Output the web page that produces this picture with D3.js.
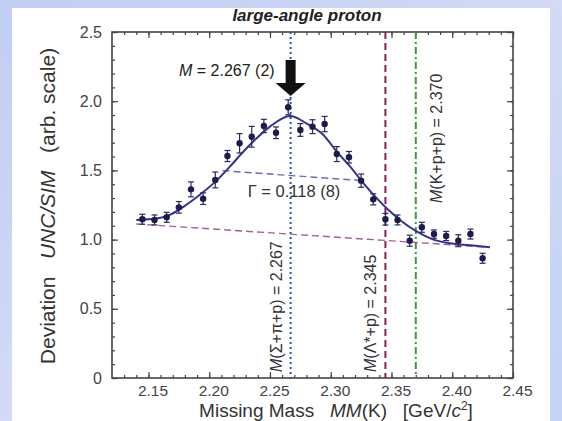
<!DOCTYPE html>
<html>
<head>
<meta charset="utf-8">
<script src="https://cdn.jsdelivr.net/npm/d3@7"></script>
<style>
  body { margin: 0; }
  svg { display: block; font-family: "Liberation Sans", Arial, sans-serif; }
  text { white-space: pre; }
</style>
</head>
<body>
<div class="chart"></div>
<script>
// measured points (missing mass bins, GeV/c^2)
const massBins = [2.145, 2.155, 2.165, 2.175, 2.185, 2.195, 2.205, 2.215, 2.225, 2.235,
  2.245, 2.255, 2.265, 2.275, 2.285, 2.295, 2.305, 2.315, 2.325, 2.335,
  2.345, 2.355, 2.365, 2.375, 2.385, 2.395, 2.405, 2.415, 2.425];
const deviation = [1.147, 1.142, 1.161, 1.233, 1.363, 1.296, 1.431, 1.604, 1.696, 1.743,
  1.821, 1.772, 1.956, 1.792, 1.816, 1.835, 1.618, 1.595, 1.426, 1.291,
  1.147, 1.142, 0.992, 1.089, 1.040, 1.026, 0.992, 1.040, 0.865];
const errors = [0.036, 0.036, 0.036, 0.042, 0.054, 0.042, 0.057, 0.040, 0.070, 0.075,
  0.048, 0.042, 0.054, 0.046, 0.050, 0.055, 0.054, 0.042, 0.048, 0.040,
  0.042, 0.036, 0.040, 0.036, 0.030, 0.033, 0.043, 0.036, 0.036];

// fit curve
const fitMass = [2.140, 2.157, 2.168, 2.179, 2.192, 2.206, 2.217, 2.228, 2.239, 2.250,
  2.2665, 2.280, 2.294, 2.305, 2.316, 2.327, 2.338, 2.346, 2.357, 2.371, 2.384, 2.398, 2.415, 2.431];
const fitValue = [1.142, 1.152, 1.180, 1.238, 1.322, 1.426, 1.527, 1.635, 1.732, 1.816,
  1.893, 1.840, 1.756, 1.635, 1.527, 1.407, 1.298, 1.226, 1.142, 1.057, 1.002, 0.973, 0.959, 0.944];

const bgMass = [2.140, 2.431];
const bgValue = [1.113, 0.944];
const halfMass = [2.211, 2.326];
const halfValue = [1.498, 1.426];

const thresholdNames = ["M(Σ+π+p) = 2.267", "M(Λ*+p) = 2.345", "M(K+p+p) = 2.370"];
const thresholdMass = [2.267, 2.345, 2.370];

const xTicks = [2.15, 2.20, 2.25, 2.30, 2.35, 2.40, 2.45];
const yTicks = [0, 0.5, 1.0, 1.5, 2.0, 2.5];
const yTickLabels = ["0", "0.5", "1.0", "1.5", "2.0", "2.5"];

const W = 562, H = 421;
const margin = {top: 32, right: 49, bottom: 43, left: 112};
const width = W - margin.left - margin.right,
      height = H - margin.top - margin.bottom;

const root = d3.select(".chart").append("svg")
  .attr("width", W)
  .attr("height", H);

// slide background
const defs = root.append("defs");
const grad = defs.append("linearGradient").attr("id", "bg")
  .attr("x1", 0).attr("y1", 0).attr("x2", 1).attr("y2", 1);
grad.append("stop").attr("offset", "0%").attr("stop-color", "#c0cef2");
grad.append("stop").attr("offset", "50%").attr("stop-color", "#d2daf6");
grad.append("stop").attr("offset", "100%").attr("stop-color", "#c4d2f4");
root.append("rect").attr("width", W).attr("height", H).attr("fill", "url(#bg)");
root.append("rect").attr("x", 12).attr("y", 8).attr("width", 538).attr("height", H - 8)
  .attr("fill", "#fff");

const svg = root.append("g")
  .attr("transform", "translate(" + margin.left + "," + margin.top + ")");

const xScale = d3.scaleLinear().domain([2.12, 2.45]).range([0, width]);
const yScale = d3.scaleLinear().domain([0, 2.5]).range([height, 0]);

// ticks on all four sides, pointing inward
const frameColor = "#444";
const xMinor = d3.range(2.13, 2.4501, 0.01);
const yMinor = d3.range(0, 2.5001, 0.1);

svg.append("g").attr("transform", "translate(0," + height + ")")
  .call(d3.axisBottom(xScale).tickValues(xMinor).tickSize(-3).tickFormat(""));
svg.append("g")
  .call(d3.axisTop(xScale).tickValues(xMinor).tickSize(-3).tickFormat(""));
svg.append("g").attr("class", "xAxis").attr("transform", "translate(0," + height + ")")
  .call(d3.axisBottom(xScale).tickValues(xTicks).tickSize(-6).tickPadding(7)
    .tickFormat(d3.format(".2f")));
svg.append("g")
  .call(d3.axisTop(xScale).tickValues(xTicks).tickSize(-6).tickFormat(""));

svg.append("g")
  .call(d3.axisLeft(yScale).tickValues(yMinor).tickSize(-3).tickFormat(""));
svg.append("g").attr("transform", "translate(" + width + ",0)")
  .call(d3.axisRight(yScale).tickValues(yMinor).tickSize(-3).tickFormat(""));
svg.append("g").attr("class", "yAxis")
  .call(d3.axisLeft(yScale).tickValues(yTicks).tickSize(-6).tickPadding(10)
    .tickFormat((d, i) => yTickLabels[i]));
svg.append("g").attr("transform", "translate(" + width + ",0)")
  .call(d3.axisRight(yScale).tickValues(yTicks).tickSize(-6).tickFormat(""));

svg.selectAll(".domain").remove();
svg.selectAll(".tick line").attr("stroke", frameColor).attr("stroke-width", 1.2);
svg.selectAll(".xAxis text").attr("font-size", 15.5).attr("fill", "#444").attr("dx", 4);
svg.selectAll(".yAxis text").attr("font-size", 16).attr("fill", "#444");

svg.append("rect")
  .attr("width", width).attr("height", height)
  .attr("fill", "none").attr("stroke", frameColor).attr("stroke-width", 1.6);

// threshold lines
const thrColors = ["#2e4fa8", "#8a1f55", "#3a9a3a"];
const thrDash = ["2,3", "7,4", "7,3,2,3"];
svg.selectAll(".thr")
  .data(thresholdMass)
  .enter().append("line")
  .attr("class", "thr")
  .attr("x1", d => xScale(d)).attr("x2", d => xScale(d))
  .attr("y1", 0).attr("y2", height)
  .attr("stroke", (d, i) => thrColors[i])
  .attr("stroke-width", 2)
  .attr("stroke-dasharray", (d, i) => thrDash[i]);

// background and half-width dashed lines
const line = d3.line().x(d => xScale(d[0])).y(d => yScale(d[1]));
svg.append("path")
  .datum(bgMass.map((m, i) => [m, bgValue[i]]))
  .attr("d", line)
  .attr("fill", "none").attr("stroke", "#a0609a").attr("stroke-width", 1.4)
  .attr("stroke-dasharray", "7,4");
svg.append("path")
  .datum(halfMass.map((m, i) => [m, halfValue[i]]))
  .attr("d", line)
  .attr("fill", "none").attr("stroke", "#6a6ab8").attr("stroke-width", 1.4)
  .attr("stroke-dasharray", "7,4");

// fit curve
svg.append("path")
  .datum(fitMass.map((m, i) => [m, fitValue[i]]))
  .attr("d", line.curve(d3.curveMonotoneX))
  .attr("fill", "none").attr("stroke", "#33358c").attr("stroke-width", 2);

// data points with error bars
const pts = massBins.map((m, i) => ({m: m, v: deviation[i], e: errors[i]}));
const pg = svg.selectAll(".pt").data(pts).enter().append("g").attr("class", "pt");
pg.append("line")
  .attr("x1", d => xScale(d.m)).attr("x2", d => xScale(d.m))
  .attr("y1", d => yScale(d.v + d.e)).attr("y2", d => yScale(d.v - d.e))
  .attr("stroke", "#2a2a5e").attr("stroke-width", 1.2);
pg.selectAll(".cap")
  .data(d => [d.v + d.e, d.v - d.e].map(y => ({m: d.m, y: y})))
  .enter().append("line")
  .attr("x1", d => xScale(d.m) - 3).attr("x2", d => xScale(d.m) + 3)
  .attr("y1", d => yScale(d.y)).attr("y2", d => yScale(d.y))
  .attr("stroke", "#2a2a5e").attr("stroke-width", 1.2);
pg.append("circle")
  .attr("cx", d => xScale(d.m)).attr("cy", d => yScale(d.v))
  .attr("r", 3.2).attr("fill", "#1c1c4a");

// peak arrow and labels
const ax = xScale(2.267);
svg.append("path")
  .attr("d", d3.line()([[ax - 5, 28], [ax + 5, 28], [ax + 5, 51], [ax + 15, 51],
    [ax, 64], [ax - 15, 51], [ax - 5, 51]]) + "Z")
  .attr("fill", "#111");

const mText = svg.append("text").attr("x", ax - 16).attr("y", 44)
  .attr("text-anchor", "end").attr("font-size", 16).attr("fill", "#222");
mText.append("tspan").attr("font-style", "italic").text("M");
mText.append("tspan").text(" = 2.267 (2)");

svg.append("text").attr("x", 182).attr("y", 165)
  .attr("text-anchor", "middle").attr("font-size", 16.5).attr("fill", "#333")
  .text("Γ = 0.118 (8)");

// rotated threshold labels
const thrLabelX = [xScale(2.267) - 9, xScale(2.345) - 9, xScale(2.370) + 26];
const thrLabelY = [height - 6, height - 6, 171];
thresholdNames.forEach((name, i) => {
  const t = svg.append("text")
    .attr("transform", "translate(" + thrLabelX[i] + "," + thrLabelY[i] + ") rotate(-90)")
    .attr("font-size", 16).attr("fill", "#333");
  t.append("tspan").attr("font-style", "italic").text(name.slice(0, 1));
  t.append("tspan").text(name.slice(1));
});

// title and axis titles
root.append("text").attr("x", 307).attr("y", 21)
  .attr("text-anchor", "middle").attr("font-size", 17)
  .attr("font-weight", "bold").attr("font-style", "italic").attr("fill", "#222")
  .text("large-angle proton");

const yTitle = root.append("text")
  .attr("transform", "translate(55,206) rotate(-90)")
  .attr("text-anchor", "middle").attr("font-size", 21).attr("fill", "#333");
yTitle.append("tspan").text("Deviation   ");
yTitle.append("tspan").attr("font-style", "italic").text("UNC/SIM");
yTitle.append("tspan").text("   (arb. scale)");

const xTitle = root.append("text")
  .attr("x", 336).attr("y", 417)
  .attr("text-anchor", "middle").attr("font-size", 19).attr("fill", "#333");
xTitle.append("tspan").text("Missing Mass   ");
xTitle.append("tspan").attr("font-style", "italic").text("MM");
xTitle.append("tspan").text("(K)   [GeV/");
xTitle.append("tspan").attr("font-style", "italic").text("c");
xTitle.append("tspan").attr("dy", -7).attr("font-size", 12).text("2");
xTitle.append("tspan").attr("dy", 7).text("]");
</script>
</body>
</html>
